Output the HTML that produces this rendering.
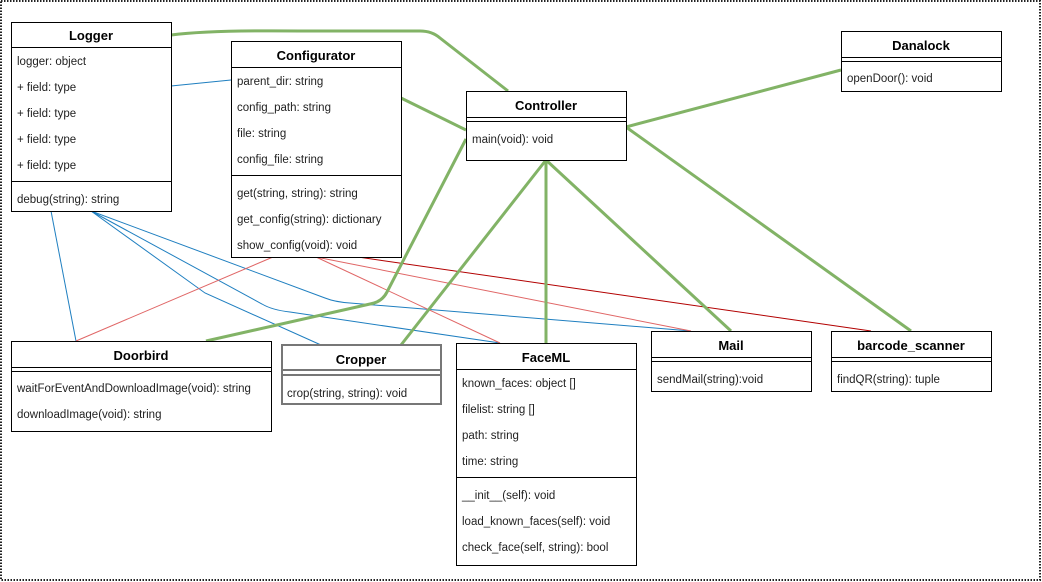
<!DOCTYPE html>
<html><head><meta charset="utf-8"><style>
html,body{margin:0;padding:0;background:#fff;}
svg{display:block;font-family:"Liberation Sans",sans-serif;}
.t{font-weight:bold;font-size:13px;text-anchor:middle;}
.a{font-size:11.5px;fill:#222;}
</style></head><body>
<svg width="1042" height="582" viewBox="0 0 1042 582" xmlns="http://www.w3.org/2000/svg">
<rect x="1" y="1" width="1039" height="579" fill="none" stroke="#222" stroke-width="2" stroke-dasharray="1.5,1.5"/>
<g fill="none">
<g stroke="#1f7fc0" stroke-width="1">
<path d="M171 86 L231 80"/>
<path d="M51 211 L76 341"/>
<path d="M91 211 L205 293 L321 345"/>
<path d="M91 211 L262 304 Q272 310 290 312 L500 343"/>
<path d="M91 211 L325 298 Q335 302 350 303 L691 331"/>
</g>
<g stroke="#e06666" stroke-width="1">
<path d="M273 257 L76 341"/>
<path d="M316 257 L500 343"/>
<path d="M316 257 L691 331"/>
</g>
<path d="M358 257 L871 331" stroke="#b20000" stroke-width="1"/>
<g stroke="#82b366" stroke-width="3">
<path d="M171 35 Q210 30 300 31 L420 31 Q432 31 440 38 L508 91"/>
<path d="M401 98 L466 130"/>
<path d="M466 139 L387 292 Q382 302 370 304 L206 341"/>
<path d="M546 160 L401 345"/>
<path d="M546 160 L546 343"/>
<path d="M546 160 L731 331"/>
<path d="M626 127 L841 70"/>
<path d="M626 127 L911 331"/>
</g>
</g>
<g fill="#fff" stroke="#000" stroke-width="1">
<rect x="11.5" y="22.5" width="160" height="189"/>
<path d="M11.5 47.5H171.5M11.5 181.5H171.5"/>
<rect x="231.5" y="41.5" width="170" height="216"/>
<path d="M231.5 67.5H401.5M231.5 175.5H401.5"/>
<rect x="466.5" y="91.5" width="160" height="69"/>
<path d="M466.5 117.5H626.5M466.5 121.5H626.5"/>
<rect x="841.5" y="31.5" width="160" height="60"/>
<path d="M841.5 57.5H1001.5M841.5 61.5H1001.5"/>
<rect x="11.5" y="341.5" width="260" height="90"/>
<path d="M11.5 367.5H271.5M11.5 371.5H271.5"/>
<rect x="456.5" y="343.5" width="180" height="222"/>
<path d="M456.5 369.5H636.5M456.5 477.5H636.5"/>
<rect x="651.5" y="331.5" width="160" height="60"/>
<path d="M651.5 357.5H811.5M651.5 361.5H811.5"/>
<rect x="831.5" y="331.5" width="160" height="60"/>
<path d="M831.5 357.5H991.5M831.5 361.5H991.5"/>
</g>
<g fill="#fff" stroke="#777" stroke-width="2">
<rect x="282" y="345" width="159" height="59"/>
<path d="M282 370H441M282 375H441"/>
</g>
<g>
<text class="t" x="91" y="40">Logger</text>
<text class="a" x="17" y="65">logger: object</text>
<text class="a" x="17" y="91">+ field: type</text>
<text class="a" x="17" y="117">+ field: type</text>
<text class="a" x="17" y="143">+ field: type</text>
<text class="a" x="17" y="169">+ field: type</text>
<text class="a" x="17" y="203">debug(string): string</text>
<text class="t" x="316" y="60">Configurator</text>
<text class="a" x="237" y="85">parent_dir: string</text>
<text class="a" x="237" y="111">config_path: string</text>
<text class="a" x="237" y="137">file: string</text>
<text class="a" x="237" y="163">config_file: string</text>
<text class="a" x="237" y="197">get(string, string): string</text>
<text class="a" x="237" y="223">get_config(string): dictionary</text>
<text class="a" x="237" y="249">show_config(void): void</text>
<text class="t" x="546" y="110">Controller</text>
<text class="a" x="472" y="143">main(void): void</text>
<text class="t" x="921" y="50">Danalock</text>
<text class="a" x="847" y="82">openDoor(): void</text>
<text class="t" x="141" y="360">Doorbird</text>
<text class="a" x="17" y="392">waitForEventAndDownloadImage(void): string</text>
<text class="a" x="17" y="418">downloadImage(void): string</text>
<text class="t" x="361" y="364">Cropper</text>
<text class="a" x="287" y="397">crop(string, string): void</text>
<text class="t" x="546" y="362">FaceML</text>
<text class="a" x="462" y="387">known_faces: object []</text>
<text class="a" x="462" y="413">filelist: string []</text>
<text class="a" x="462" y="439">path: string</text>
<text class="a" x="462" y="465">time: string</text>
<text class="a" x="462" y="499">__init__(self): void</text>
<text class="a" x="462" y="525">load_known_faces(self): void</text>
<text class="a" x="462" y="551">check_face(self, string): bool</text>
<text class="t" x="731" y="350">Mail</text>
<text class="a" x="657" y="383">sendMail(string):void</text>
<text class="t" x="911" y="350">barcode_scanner</text>
<text class="a" x="837" y="383">findQR(string): tuple</text>
</g>
</svg>
</body></html>
